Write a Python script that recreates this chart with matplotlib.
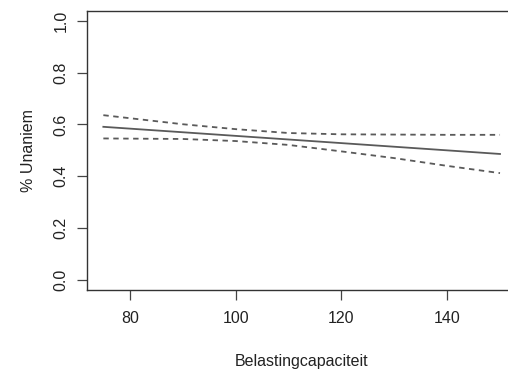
import matplotlib
matplotlib.use("Agg")
import matplotlib.pyplot as plt

# --- datos ---
capaciteit = [75, 90, 100, 110, 120, 130, 140, 150]
fit = [0.591, 0.570, 0.556, 0.542, 0.528, 0.514, 0.500, 0.486]
upper = [0.636, 0.601, 0.582, 0.567, 0.562, 0.561, 0.560, 0.560]
lower = [0.546, 0.544, 0.536, 0.521, 0.496, 0.470, 0.440, 0.412]

x_ticks = [80, 100, 120, 140]
y_ticks = [0.0, 0.2, 0.4, 0.6, 0.8, 1.0]

plt.rcParams['font.family'] = ['Liberation Sans', 'DejaVu Sans']

fig = plt.figure(figsize=(5.08, 3.70), dpi=100)
# el recuadro sale por la derecha de la imagen, como en el original
ax = fig.add_axes([0.1722, 0.2162, 0.8433, 0.7549])

line_col = '#5a5a5a'
ax.plot(capaciteit, fit, color=line_col, lw=1.3)
ax.plot(capaciteit, upper, color=line_col, lw=1.3, ls=(0, (3, 2.5)))
ax.plot(capaciteit, lower, color=line_col, lw=1.3, ls=(0, (3, 2.5)))

ax.set_xlim(72, 153)
ax.set_ylim(-0.04, 1.04)
ax.set_xticks(x_ticks)
ax.set_yticks(y_ticks)
ax.set_yticklabels([f"{v:.1f}" for v in y_ticks], rotation=90, va='center')

for s in ax.spines.values():
    s.set_color('#333333')
    s.set_linewidth(1.0)
ax.spines['right'].set_visible(False)
ax.tick_params(axis='both', length=7, width=0.9, color='#444444',
               labelsize=11.5, labelcolor='#222222', pad=8)
ax.tick_params(axis='y', pad=6.5)

ax.set_xlabel('Belastingcapaciteit', fontsize=11.5, color='#222222', labelpad=20)
ax.set_ylabel('% Unaniem', fontsize=11.5, color='#222222', labelpad=13)

fig.savefig('out.png', dpi=100)
